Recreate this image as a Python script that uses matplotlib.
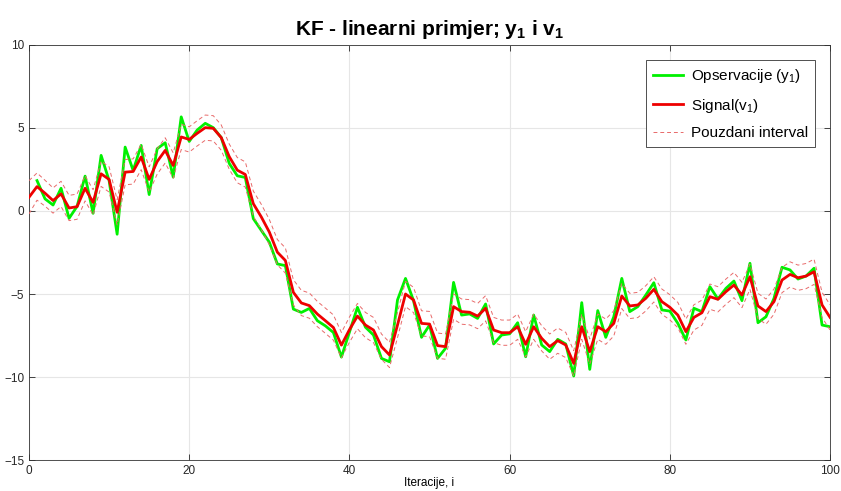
import matplotlib
matplotlib.use("Agg")
import matplotlib.pyplot as plt
import numpy as np

plt.rcParams["font.family"] = ["Liberation Sans", "DejaVu Sans"]
plt.rcParams["mathtext.fontset"] = "custom"
plt.rcParams["mathtext.rm"] = "Liberation Sans"
plt.rcParams["mathtext.it"] = "Liberation Sans"
plt.rcParams["mathtext.bf"] = "Liberation Sans:bold"

# observations y1, iterations 1..100
obs_x = np.arange(1, 101)
obs_y = [1.83, 0.73, 0.36, 1.37, -0.44, 0.28, 2.10, -0.14, 3.35, 1.83,
         -1.40, 3.85, 2.44, 3.95, 0.99, 3.75, 4.11, 2.04, 5.67, 4.19,
         4.88, 5.28, 5.02, 4.42, 2.86, 2.12, 2.02, -0.46, -1.17, -1.88,
         -3.19, -3.29, -5.91, -6.11, -5.87, -6.61, -6.92, -7.32, -8.80, -7.30,
         -5.80, -7.00, -7.47, -8.88, -9.08, -5.36, -4.06, -5.40, -7.61, -6.87,
         -8.88, -8.27, -4.30, -6.27, -6.20, -6.47, -5.60, -8.01, -7.47, -7.40,
         -6.73, -8.78, -6.27, -8.07, -8.47, -7.73, -8.01, -9.94, -5.52, -9.54,
         -6.00, -7.61, -6.37, -4.06, -6.06, -5.76, -5.06, -4.32, -5.96, -6.03,
         -6.77, -7.77, -5.86, -6.06, -4.56, -5.30, -4.66, -4.22, -5.40, -3.15,
         -6.73, -6.37, -5.26, -3.39, -3.55, -4.10, -3.92, -3.45, -6.87, -6.97]

# estimated signal v1, iterations 0..100
sig_x = np.arange(0, 101)
sig_y = [0.83, 1.47, 1.07, 0.63, 1.03, 0.18, 0.26, 1.37, 0.52, 2.24, 1.90,
         -0.08, 2.34, 2.38, 3.25, 1.90, 2.98, 3.65, 2.74, 4.46, 4.31,
         4.68, 5.02, 4.98, 4.42, 3.27, 2.46, 2.20, 0.44, -0.36, -1.27,
         -2.48, -2.98, -4.90, -5.54, -5.70, -6.21, -6.61, -7.02, -8.08, -7.15,
         -6.33, -6.87, -7.17, -8.17, -8.67, -6.87, -5.00, -5.36, -6.77, -6.81,
         -8.11, -8.17, -5.76, -6.06, -6.10, -6.33, -5.86, -7.17, -7.33, -7.33,
         -6.97, -8.03, -6.97, -7.67, -8.17, -7.81, -8.07, -9.18, -6.97, -8.47,
         -6.97, -7.27, -6.77, -5.12, -5.72, -5.66, -5.26, -4.72, -5.46, -5.80,
         -6.27, -7.27, -6.41, -6.13, -5.16, -5.32, -4.86, -4.46, -5.06, -3.96,
         -5.72, -6.06, -5.46, -4.16, -3.82, -4.02, -3.92, -3.66, -5.66, -6.41]

# half width of the confidence band (settles after a few steps)
half_width = [1.0, 0.82, 0.78] + [0.76] * 98

sig = np.array(sig_y)
hw = np.array(half_width)

fig = plt.figure(figsize=(8.41, 4.91), dpi=100)
ax = fig.add_axes([0.0345, 0.0631, 0.9525, 0.8453])

ax.plot(obs_x, obs_y, color="#00f000", lw=2.0, label="Opservacije (y$_1$)", zorder=3)
ax.plot(sig_x, sig, color="#ee0000", lw=2.0, label="Signal(v$_1$)", zorder=4)
ax.plot(sig_x, sig + hw, color="#e86a6a", lw=0.7, ls=(0, (4, 3)), label="Pouzdani interval", zorder=5)
ax.plot(sig_x, sig - hw, color="#e86a6a", lw=0.7, ls=(0, (4, 3)), zorder=5)

ax.set_xlim(0, 100)
ax.set_ylim(-15, 10)
ax.set_xticks(np.arange(0, 101, 20))
ax.set_yticks(np.arange(-15, 11, 5))
ax.grid(True, color="#e6e6e6", lw=0.8)
ax.set_axisbelow(True)
ax.tick_params(direction="in", length=4, width=0.6, colors="#262626",
               labelsize=8.5, top=True, right=True)
for s in ax.spines.values():
    s.set_color("#333333")
    s.set_linewidth(0.6)

ax.set_title("KF - linearni primjer; y$_\\mathbf{1}$ i v$_\\mathbf{1}$",
             fontsize=15, fontweight="bold", pad=7)
ax.set_xlabel("Iteracije, i", fontsize=8.5, labelpad=0)

leg = ax.legend(loc="upper right", fontsize=11, fancybox=False, framealpha=1,
                edgecolor="#333333", handlelength=2.0, handletextpad=0.5,
                borderpad=0.45, borderaxespad=1.0, labelspacing=0.75)
leg.get_frame().set_linewidth(0.6)

fig.savefig("out.png", dpi=100)
